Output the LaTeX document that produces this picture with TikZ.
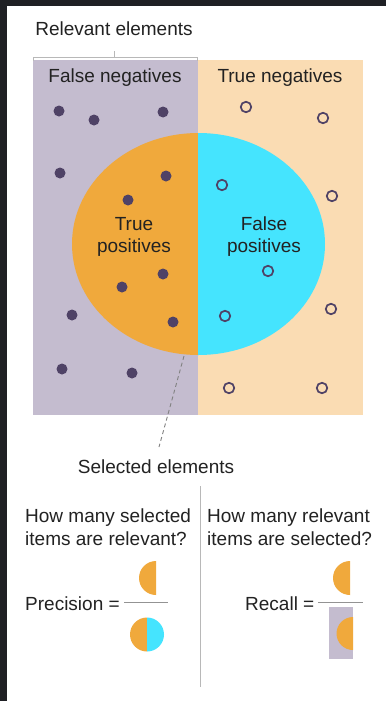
\documentclass[tikz,border=0pt]{standalone}
\usepackage{fontspec}
\setmainfont{Liberation Sans}
\definecolor{frame}{HTML}{1F2024}
\definecolor{relev}{HTML}{C4BCCF}
\definecolor{peach}{HTML}{FADCB3}
\definecolor{tpcol}{HTML}{F0A93C}
\definecolor{fpcol}{HTML}{45E4FE}
\definecolor{dotcol}{HTML}{4F4266}
\definecolor{txt}{HTML}{222222}
\definecolor{rule}{HTML}{B8B8B8}
\tikzset{
  lbl/.style={font=\fontsize{19}{22}\selectfont, text=txt, inner sep=0pt},
  dotf/.style={circle, fill=dotcol, minimum size=11pt, inner sep=0pt},
  doto/.style={circle, draw=dotcol, line width=1.7pt, fill=none, minimum size=10.5pt, inner sep=0pt},
  graylin/.style={draw=rule, line width=0.8pt},
}
\begin{document}
\begin{tikzpicture}[x=1pt,y=-1pt]
\useasboundingbox (0,0) rectangle (386,701);
\fill[frame] (0,0) rectangle (386,701);
\fill[white] (7,6) rectangle (386,701);
% rectangles
\fill[relev] (33,60) rectangle (198,415);
\fill[peach] (198,60) rectangle (363,415);
% bracket
\draw[graylin] (33,61) -- (33,57) -- (197,57) -- (197,61);
\draw[graylin] (114,57) -- (114,51);
\node[lbl] (rel) at (114,29) {Relevant elements};
\node[lbl] (fn) at (115,78) {False negatives};
\node[lbl] (tn) at (280,78) {True negatives};
% ellipse halves
\begin{scope}
  \clip (60,120) rectangle (198,370);
  \fill[tpcol] (198.5,244) ellipse [x radius=126.5, y radius=111];
\end{scope}
\begin{scope}
  \clip (198,120) rectangle (340,370);
  \fill[fpcol] (198.5,244) ellipse [x radius=126.5, y radius=111];
\end{scope}
\node[lbl, align=center] (tp) at (134,237) {True\\positives};
\node[lbl, align=center] (fp) at (264,237) {False\\positives};
% filled dots
\node[dotf] (d1) at (59,111) {};
\node[dotf] (d2) at (94,120) {};
\node[dotf] (d3) at (163,112) {};
\node[dotf] (d4) at (60,173) {};
\node[dotf] (d5) at (166,176) {};
\node[dotf] (d6) at (128,200) {};
\node[dotf] (d7) at (163,274) {};
\node[dotf] (d8) at (122,287) {};
\node[dotf] (d9) at (72,315) {};
\node[dotf] (d10) at (173,322) {};
\node[dotf] (d11) at (62,369) {};
\node[dotf] (d12) at (132,373) {};
% open circles
\node[doto] (o1) at (246,107) {};
\node[doto] (o2) at (323,118) {};
\node[doto] (o3) at (222,185) {};
\node[doto] (o4) at (332,196) {};
\node[doto] (o5) at (268,271) {};
\node[doto] (o6) at (225,316) {};
\node[doto] (o7) at (331,309) {};
\node[doto] (o8) at (229,388) {};
\node[doto] (o9) at (322,388) {};
% selected elements
\coordinate (selpt) at (184,356);
\node[lbl] (sel) at (156,467) {Selected elements};
\draw[draw=rule!70!black, line width=0.9pt, dash pattern=on 4pt off 3pt] (selpt) -- (159,447);
% divider
\coordinate (divtop) at (200,486);
\coordinate (divbot) at (200,687);
\draw[graylin] (divtop) -- (divbot);
% questions
\node[lbl, align=left, anchor=north west, font=\fontsize{19}{23}\selectfont] (q1) at (25,509) {How many selected\\items are relevant?};
\node[lbl, align=left, anchor=north west, font=\fontsize{19}{23}\selectfont] (q2) at (207,509) {How many relevant\\items are selected?};
% precision
\node[lbl, anchor=west] (prec) at (25,604) {Precision =};
\draw[draw=rule!80!black, line width=0.9pt] (124,602) -- (168,602);
\begin{scope}
  \clip (130,555) rectangle (156,600);
  \fill[tpcol] (156,578) circle[radius=17];
\end{scope}
\begin{scope}
  \clip (120,610) rectangle (147,660);
  \fill[tpcol] (147,634.5) circle[radius=17];
\end{scope}
\begin{scope}
  \clip (147,610) rectangle (175,660);
  \fill[fpcol] (147,634.5) circle[radius=17];
\end{scope}
% recall
\node[lbl, anchor=west] (rec) at (245,604) {Recall =};
\draw[draw=rule!80!black, line width=0.9pt] (318,602) -- (363,602);
\begin{scope}
  \clip (325,555) rectangle (350,600);
  \fill[tpcol] (350,578) circle[radius=17];
\end{scope}
\fill[relev] (329,607) rectangle (353,659);
\begin{scope}
  \clip (329,607) rectangle (353,659);
  \fill[tpcol] (353,633.5) circle[radius=16.5];
\end{scope}
\end{tikzpicture}
\end{document}
